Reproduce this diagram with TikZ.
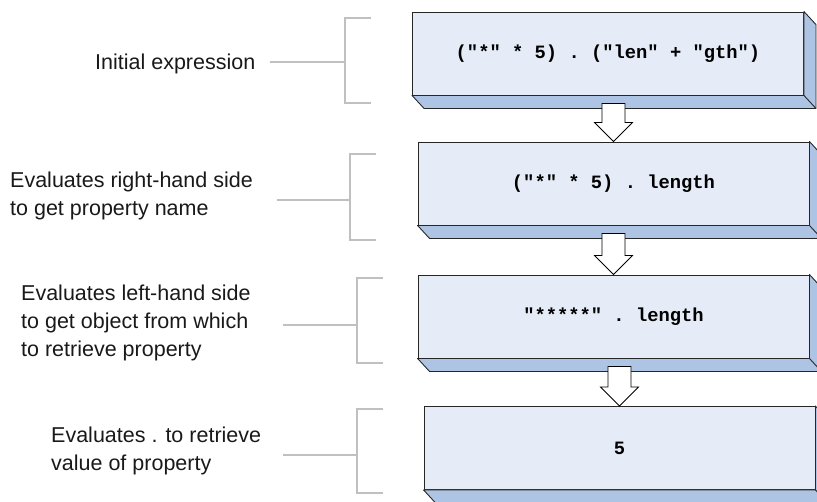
\documentclass[tikz,border=0pt]{standalone}
\usepackage{fontspec}
\setmainfont{Liberation Sans}
\setmonofont{Liberation Mono}
\usepackage{tikz}
\usetikzlibrary{calc}
\definecolor{boxface}{HTML}{E5ECF7}
\definecolor{boxside}{HTML}{AEC4E4}
\definecolor{bracketgray}{HTML}{C0C0C0}

\begin{document}
\begin{tikzpicture}[x=1pt,y=-1pt,
  stage/.style={draw=black!85, line width=0.9pt, fill=boxface, minimum width=391pt,
    minimum height=83pt, inner sep=0pt, font=\fontsize{18.8}{22}\selectfont\ttfamily\bfseries},
  slabside/.style={draw=black!85, line width=0.9pt, fill=boxside, line join=round},
  flowarrow/.style={draw=black, line width=0.8pt, fill=white},
  bracket/.style={draw=bracketgray, line width=2.7pt},
  note/.style={anchor=base west, align=left, inner sep=0pt,
    font=\fontsize{21.5}{28}\selectfont, text=black!90}]
\useasboundingbox (0,0) rectangle (817,501);
\clip (0,0) rectangle (817,501);

% evaluation stages
\node[stage] (b1) at (608,53.5) {("*" * 5) . ("len" + "gth")};
\node[stage] (b2) at (613.5,183.5) {("*" * 5) . length};
\node[stage] (b3) at (613.5,316.5) {"*****" . length};
\node[stage] (b4) at (619.5,448) {5};

% 3d slab under each stage
\foreach \b in {b1,b2,b3,b4} {
  \draw[slabside] (\b.south west) -- ++(12,13) -- ($(\b.south east)+(12,13)$)
    -- ($(\b.north east)+(12,13)$) -- (\b.north east) -- (\b.south east) -- cycle;
  \draw[slabside] (\b.south east) -- ++(12,13);
}

% block arrows between stages
\foreach \s/\t in {b1/b2,b2/b3,b3/b4} {
  \coordinate (top) at ([yshift=-8pt]\t.north |- \s.south);
  \draw[flowarrow] (\t.north) -- ++(-19,-19) -- ++(7.5,0) -- ($(top)+(-11.5,0)$)
    -- ++(23,0) -- ($(\t.north)+(11.5,-19)$) -- ++(7.5,0) -- cycle;
}

% notes (base = last line)
\node[note] (l1) at (95,69) {Initial expression};
\node[note] (l2) at (10,215) {Evaluates right-hand side\\to get property name};
\node[note] (l3) at (21,356) {Evaluates left-hand side\\to get object from which\\to retrieve property};
\node[note] (l4) at (51,470) {Evaluates . to retrieve\\value of property};

% brackets
\foreach \n/\bx/\bt/\bb/\bs/\sx in {1/345/18/103/62/270, 2/350/154/240/200/277,
    3/357/278/363/325/283, 4/357/409/493/455/283} {
  \coordinate (k\n) at (\bx,\bs);
  \coordinate (s\n) at (\sx,\bs);
  \draw[bracket] (\bx+26,\bt) -- (\bx,\bt) -- (\bx,\bb) -- (\bx+26,\bb);
  \draw[bracket] (s\n) -- (k\n);
}
\end{tikzpicture}
\end{document}
